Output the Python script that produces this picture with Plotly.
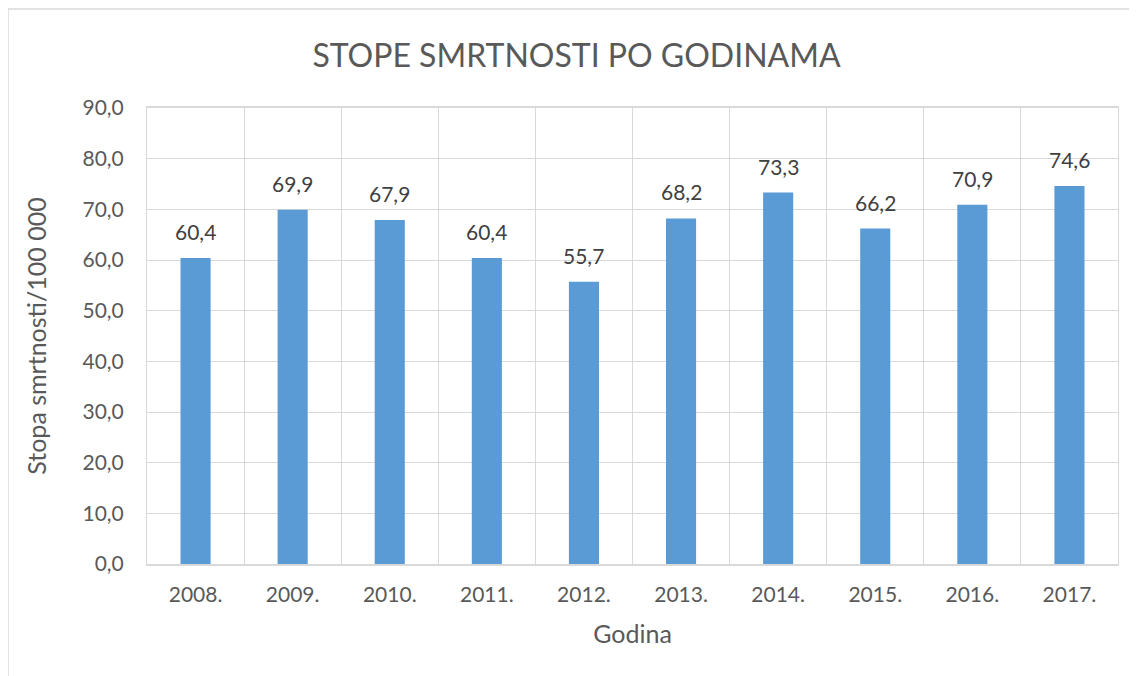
import plotly.graph_objects as go

years = ["2008.", "2009.", "2010.", "2011.", "2012.", "2013.", "2014.", "2015.", "2016.", "2017."]
rates = [60.4, 69.9, 67.9, 60.4, 55.7, 68.2, 73.3, 66.2, 70.9, 74.6]

grid = "#D9D9D9"
text_col = "#595959"
font_family = "Lato, 'Open Sans', sans-serif"

fig = go.Figure()
fig.add_trace(go.Bar(
    x=years,
    y=rates,
    marker=dict(color="#5B9BD5", line=dict(width=0)),
    width=0.31,
    hoverinfo="x+y",
))

# data labels above each bar (x given as category index, "2008." would be read as a number)
for i, v in enumerate(rates):
    fig.add_annotation(
        x=i, y=v, text=f"{v:.1f}".replace(".", ","),
        showarrow=False, yanchor="bottom", yshift=12,
        font=dict(size=21, color="#404040", family=font_family),
    )

fig.update_layout(
    width=1137,
    height=676,
    title=dict(
        text="STOPE SMRTNOSTI PO GODINAMA",
        x=0.5, xanchor="center", y=0.93, yanchor="middle",
        font=dict(size=32, color=text_col, family=font_family),
    ),
    separators=",.",
    plot_bgcolor="white",
    paper_bgcolor="white",
    margin=dict(l=139, r=27, t=100, b=120),
    showlegend=False,
    font=dict(family=font_family, color=text_col),
)

fig.update_xaxes(
    type="category",
    tickson="boundaries",
    showgrid=True,
    gridcolor=grid,
    gridwidth=1,
    showline=True,
    linecolor=grid,
    linewidth=1.5,
    mirror=True,
    ticks="",
    ticklabelstandoff=11,
    tickfont=dict(size=21, color=text_col),
    title=dict(text="Godina", font=dict(size=25, color=text_col), standoff=21),
)
fig.update_yaxes(
    range=[0, 90],
    dtick=10,
    tickformat=".1f",
    showgrid=True,
    gridcolor=grid,
    gridwidth=1,
    showline=True,
    linecolor=grid,
    mirror=True,
    zeroline=False,
    ticks="",
    ticklabelstandoff=18,
    tickfont=dict(size=21, color=text_col),
    title=dict(text="Stopa smrtnosti/100 000", font=dict(size=25, color=text_col), standoff=28),
)

# chart border (left and top edges visible)
fig.add_shape(type="line", xref="paper", yref="paper",
              x0=-0.1432, x1=1.03, y0=1.217, y1=1.217,
              line=dict(color=grid, width=1.5))
fig.add_shape(type="line", xref="paper", yref="paper",
              x0=-0.1432, x1=-0.1432, y0=-0.3, y1=1.217,
              line=dict(color=grid, width=1.5))

fig.write_html("out.html")
